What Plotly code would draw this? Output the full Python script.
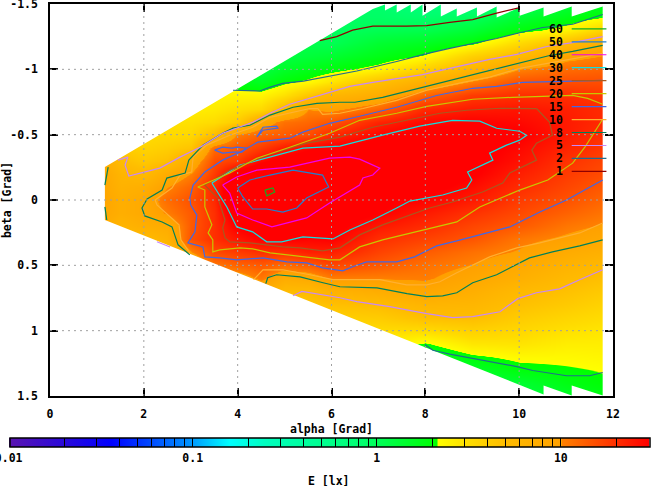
import numpy as np
import plotly.graph_objects as go

# ---------- illuminance table E [lx], one list per alpha column, beta rows -1.5 .. 1.5 ----------
beta_rows = [-1.5,-1.4,-1.3,-1.2,-1.1,-1.0,-0.9,-0.8,-0.7,-0.6,-0.5,-0.4,-0.3,-0.2,-0.1,0,0.1,0.2,0.3,0.4,0.5,0.6,0.7,0.8,0.9,1.0,1.1,1.2,1.3,1.4,1.5]
alpha_cols = [1,1.5,2,2.5,3,3.5,4,4.5,5,5.5,6,7,8,9,10,11,12]
E_a1   = [3,3,3,3,3,3,3,3,3,3,3,5,8,9,9,9.5,9,8,6,3,3,3,3,3,3,3,3,3,3,3,3]
E_a1_5 = [3,3,3,3,3,3,3,3,3,3,3,4,5,6,6.5,7,7,6,5,3,3,3,3,3,3,3,3,3,3,3,3]
E_a2   = [3,3,3,3,3,3,3,3,3,3,3.2,3.6,4.2,5.3,7,8,8,7,5.1,4,3,3,3,3,3,3,3,3,3,3,3]
E_a2_5 = [3,3,3,3,3,3,3,3,3,3,3.3,3.9,4.8,7.5,10,12,10.5,7.5,6.3,4.8,3.5,3,3,3,3,3,3,3,3,3,3]
E_a3   = [2.6,2.6,2.6,2.6,2.6,2.6,2.6,2.6,2.6,3,3.4,4.5,7.5,10.3,13,15,14,14,15,10,6,3.5,3,3,3,3,3,3,3,3,3]
E_a3_5 = [2.4,2.4,2.4,2.4,2.4,2.4,2.4,2.4,2.7,3.2,5,12,15.5,18,22,21,20,20,20,16,11,6,3.5,3,3,3,3,3,3,3,3]
E_a4   = [1.8,1.8,1.8,1.8,1.8,1.8,1.8,2.4,3,4,10.5,14,18,35,48,55,40,31,25,18,13,8,4,3,3,3,3,3,3,3,3]
E_a4_5 = [1.2,1.2,1.2,1.2,1.2,1.2,1.6,2.4,3.3,8,13,18,28,50,58,58,50,35,30,20,14,11,7,4,3,3,3,3,3,3,3]
E_a5   = [1.2,1.2,1.2,1.2,1.2,1.5,2,3,5.4,11.5,14,24,35,52,55,55,50,38,31,20,12,7.5,5.2,4,3,3,3,3,3,3,3]
E_a5_5 = [1.1,1.1,1.1,1.1,1.3,1.7,2.3,4.3,10,12.5,15.5,29,36,45,50,50,42,34,29,23,13.5,8,5.2,4.3,3.5,3,3,3,3,3,3]
E_a6   = [0.9,0.9,0.95,1.05,1.4,1.9,2.9,5.8,9.3,14.5,21,32,41,45,44,41,36,33,30,23,16.5,10.5,6.5,4.7,3.8,3,3,3,3,3,3]
E_a7   = [0.85,0.9,1.05,1.4,1.75,2.4,4.7,7.3,12.5,22,29,34,38,36,33,32,30,24.5,20,17,14,10.3,7.3,5,4,3.2,2.6,2.2,2,2,2]
E_a8   = [0.7,0.85,1.1,1.6,2.2,3.8,7,12.5,21,28,33,36,36,35,33,29,24,20.5,17,13.8,11.5,10.5,8.5,6,4.8,3.2,2.05,1.5,1.2,1,0.9]
E_a9   = [0.75,0.95,1.35,2,3.8,6,10.5,18,24,30,33,34,33,31,27,24,19.5,16.5,14.5,11.5,10,8.5,7,5.8,4.9,3.7,2.8,2,1.5,1.2,1]
E_a10  = [0.95,1.35,1.9,3.3,5.3,10,15,20,25,28,31,28,26,23,20.5,18,16,14,11,9.8,7.9,6.8,5.4,4.7,4,3.4,2.9,2.3,1.9,1.4,1.2]
E_a11  = [1.3,1.75,2.4,5,9,12,15.5,20,23,24,24,22,19.5,18,16.5,15,13,11,9.5,7.6,6.3,5.4,4.7,4.1,3.5,3,2.6,2.3,2.05,1.8,1.5]
E_a12  = [1.7,2.2,4,8,10.5,13,15.5,18,20,20,18.5,17.5,16,15,13.5,12,10.7,9.5,8,6.5,5.3,4.6,4,3.5,3.1,2.8,2.6,2.4,2.2,2.1,1.9]
E_columns = [E_a1,E_a1_5,E_a2,E_a2_5,E_a3,E_a3_5,E_a4,E_a4_5,E_a5,E_a5_5,E_a6,E_a7,E_a8,E_a9,E_a10,E_a11,E_a12]

# ---------- measured area outline (alpha, beta) ----------
area_alpha = [1.17,6.88,7.14,7.14,7.39,7.39,7.69,7.69,7.94,7.94,8.33,8.33,8.67,8.67,9.1,9.1,9.52,9.52,10.01,10.01,10.52,10.52,11.12,11.12,11.78,11.78,11.12,11.12,10.52,10.52,1.17,1.17]
area_beta  = [-0.252,-1.461,-1.496,-1.45,-1.496,-1.434,-1.496,-1.434,-1.496,-1.41,-1.496,-1.404,-1.465,-1.404,-1.473,-1.404,-1.48,-1.396,-1.473,-1.41,-1.473,-1.404,-1.48,-1.404,-1.48,1.496,1.42,1.496,1.42,1.488,0.153,-0.252]

# ---------- contour levels, each a list of (alpha, beta) polylines ----------
c60 = [[(4.58,-0.076),(4.75,-0.092),(4.79,-0.061),(4.62,-0.031),(4.58,-0.076)]]
c50 = [[(4.0,-0.092),(4.26,-0.153),(4.69,-0.191),(5.18,-0.229),(5.81,-0.191),(5.94,-0.099),(5.47,-0.015),(5.26,0.061),(4.96,0.092),(4.62,0.069),(4.32,0.069),(4.11,-0.023),(4.0,-0.092)]]
c40 = [[(3.68,-0.114),(3.98,-0.176),(4.41,-0.229),(5.11,-0.252),(5.96,-0.32),(6.39,-0.328),(6.6,-0.313),(7.03,-0.244),(6.88,-0.191),(6.67,-0.168),(6.6,-0.114),(6.18,-0.023),(5.96,0.023),(5.47,0.137),(4.73,0.206),(4.32,0.153),(3.98,0.099),(3.83,-0.053),(3.68,-0.114)]]
c30 = [[(3.45,-0.13),(3.77,0.053),(3.98,0.206),(4.32,0.244),(4.62,0.32),(4.94,0.32),(5.39,0.282),(6.03,0.298),(6.39,0.229),(6.88,0.153),(7.39,0.061),(7.67,0.008),(8.37,-0.038),(8.88,-0.092),(8.99,-0.153),(8.9,-0.214),(9.44,-0.305),(9.37,-0.359),(9.73,-0.42),(10.01,-0.458),(10.16,-0.496),(10.01,-0.526),(9.52,-0.549),(9.16,-0.603),(8.58,-0.61),(7.88,-0.565),(7.09,-0.496),(6.18,-0.412),(5.39,-0.397),(4.62,-0.32),(4.05,-0.267),(3.45,-0.13)]]
c25 = [[(10.37,-0.70),(10.65,-0.595),(10.71,-0.496),(10.37,-0.435),(10.27,-0.382),(10.37,-0.305),(9.8,-0.206),(9.65,-0.13),(9.22,-0.061),(8.58,0.015),(8.09,0.061),(7.67,0.114),(7.09,0.19),(6.6,0.267),(6.18,0.366),(5.81,0.389),(5.33,0.366),(4.96,0.359),(4.26,0.328),(3.83,0.32),(3.73,0.29),(3.68,0.214),(3.73,0.153),(3.58,-0.015),(3.3,-0.114),(3.83,-0.229),(4.62,-0.343),(5.47,-0.435),(6.18,-0.481),(6.88,-0.557),(7.6,-0.61),(8.31,-0.664),(8.88,-0.687),(9.59,-0.702),(10.37,-0.70)]]
c20 = [[(11.78,-0.618),(11.4,-0.404),(11.14,-0.282),(10.61,-0.153),(10.01,-0.076),(9.52,0),(9.16,0.053),(8.67,0.168),(8.24,0.206),(7.67,0.252),(7.09,0.305),(6.6,0.359),(6.33,0.42),(6.18,0.458),(5.96,0.458),(5.47,0.435),(4.96,0.412),(4.69,0.404),(4.32,0.374),(4.05,0.366),(3.62,0.382),(3.47,0.397),(3.47,0.305),(3.37,0.252),(3.45,0.19),(3.3,0.053),(3.3,-0.076),(3.15,-0.099),(3.83,-0.206),(4.41,-0.32),(5.11,-0.404),(5.96,-0.511),(6.6,-0.61),(7.39,-0.664),(8.03,-0.717),(8.58,-0.748),(9.01,-0.771),(9.86,-0.786),(10.44,-0.794),(11.14,-0.801),(11.46,-0.778),(11.78,-0.733)]]
c15 = [[(11.78,-0.916),(11.14,-0.908),(10.07,-0.90),(9.52,-0.87),(9.01,-0.855),(8.24,-0.80),(7.39,-0.71),(6.6,-0.641),(5.96,-0.587),(5.39,-0.519),(5.11,-0.473),(4.43,-0.443),(4.05,-0.366),(3.68,-0.305),(3.3,-0.214),(3.05,-0.114),(2.98,-0.015),(3.0,0.038),(3.13,0.114),(3.09,0.244),(2.94,0.328),(3.26,0.359),(3.3,0.435),(3.62,0.443),(3.98,0.458),(4.54,0.443),(5.05,0.473),(5.47,0.481),(5.81,0.519),(6.24,0.542),(6.45,0.511),(6.75,0.473),(7.39,0.473),(7.77,0.435),(8.24,0.351),(8.67,0.313),(9.16,0.267),(9.8,0.206),(10.44,0.092),(11.01,0),(11.78,-0.153)],
       [(3.51,-0.382),(3.68,-0.404),(3.88,-0.397),(3.98,-0.404),(4.2,-0.397),(4.09,-0.366),(3.9,-0.366),(3.68,-0.359),(3.51,-0.382)],
       [(4.41,-0.481),(4.54,-0.557),(4.83,-0.565),(4.86,-0.55),(4.54,-0.534),(4.41,-0.481)]]
c10 = [[(2.98,0.404),(2.79,0.305),(2.75,0.19),(2.51,0.114),(2.28,0.038),(2.24,0),(2.6,-0.092),(2.77,-0.19),(3.02,-0.214),(3.05,-0.328),(3.34,-0.42),(3.83,-0.496),(4.32,-0.557),(4.69,-0.633),(5.18,-0.671),(5.54,-0.70),(5.71,-0.70),(5.81,-0.656),(6.18,-0.664),(6.67,-0.70),(7.39,-0.763),(8.03,-0.84),(8.8,-0.90),(9.37,-0.94),(10.01,-1.007),(10.71,-1.053),(11.14,-1.084),(11.78,-1.122)],
       [(4.34,0.61),(4.54,0.534),(4.96,0.534),(5.54,0.572),(6.03,0.61),(6.6,0.61),(7.03,0.61),(7.6,0.649),(8.03,0.649),(8.31,0.626),(8.67,0.557),(9.37,0.435),(9.95,0.366),(10.44,0.328),(11.29,0.252),(11.78,0.176)]]
c8 = [[(2.98,0.42),(2.73,0.343),(2.6,0.206),(2.39,0.168),(2.02,0.122),(1.96,0.061),(2.07,-0.008),(2.39,-0.076),(2.49,-0.168),(2.88,-0.206),(2.96,-0.305),(3.26,-0.42),(3.68,-0.511),(3.9,-0.55),(4.26,-0.572),(4.69,-0.65),(5.18,-0.71),(5.69,-0.74),(6.18,-0.748),(6.5,-0.748),(7.09,-0.786),(8.03,-0.87),(8.8,-0.94),(9.52,-1.007),(10.01,-1.045),(10.65,-1.106),(11.14,-1.137),(11.78,-1.183)],
      [(1.17,-0.114),(1.24,-0.252)],
      [(1.17,0.053),(1.21,0.153)],
      [(4.6,0.64),(4.64,0.595),(4.83,0.572),(5.33,0.588),(5.82,0.633),(6.18,0.664),(6.97,0.672),(7.61,0.717),(8.03,0.74),(8.37,0.733),(8.67,0.71),(9.01,0.633),(9.52,0.572),(9.95,0.496),(10.22,0.443),(10.71,0.397),(11.29,0.351),(11.78,0.305)]]
c5 = [[(1.45,-0.305),(1.66,-0.328),(1.60,-0.267),(1.68,-0.183),(2.34,-0.244),(2.77,-0.328),(3.2,-0.404),(3.68,-0.511),(4.32,-0.595),(4.69,-0.664),(5.11,-0.733),(5.54,-0.778),(6.11,-0.84),(6.39,-0.87),(6.88,-0.90),(7.94,-0.96),(8.52,-1.007),(9.37,-1.076),(9.95,-1.114),(10.59,-1.175),(11.14,-1.205),(11.78,-1.25)],
      [(2.28,0.32),(2.56,0.36)],
      [(5.18,0.733),(5.37,0.70),(6.18,0.748),(6.54,0.778),(7.24,0.816),(8.03,0.87),(8.58,0.90),(9.01,0.893),(9.59,0.855),(9.97,0.755),(10.37,0.71),(10.86,0.68),(11.29,0.61),(11.78,0.534)]]
c2 = [[(3.90,-0.84),(4.47,-0.834),(4.68,-0.862),(4.96,-0.893),(5.40,-0.91),(5.96,-0.946),(6.54,-0.987),(7.39,-1.06),(8.03,-1.12),(8.52,-1.16),(9.09,-1.2),(9.52,-1.236),(10.01,-1.28),(10.5,-1.32),(11.14,-1.345),(11.78,-1.42)],
      [(7.99,1.106),(8.16,1.15),(8.52,1.18),(8.88,1.205),(9.22,1.23),(9.59,1.25),(9.95,1.275),(10.29,1.305),(10.71,1.33),(11.01,1.345),(11.5,1.345),(11.78,1.32)]]
c1 = [[(5.75,-1.22),(6.11,-1.25),(6.45,-1.30),(6.88,-1.33),(7.60,-1.33),(8.03,-1.335),(8.52,-1.36),(9.01,-1.38),(9.52,-1.43),(9.99,-1.47)]]

levels = [60,50,40,30,25,20,15,10,8,5,2,1]
level_lines = [c60,c50,c40,c30,c25,c20,c15,c10,c8,c5,c2,c1]
level_colors = ["#10b020","#2080d0","#f000f0","#10e0e0","#a85a20","#c8c800","#4068e8","#ffb030","#008058","#c888f8","#206c90","#900000"]

xticks = [0,2,4,6,8,10,12]
yticks = [-1.5,-1,-0.5,0,0.5,1,1.5]
ytick_text = ["-1.5","-1","-0.5","0","0.5","1","1.5"]
cb_major = [0.01,0.1,1,10]
cb_major_text = ["0.01","0.1","1","10"]
cb_minor = [0.02,0.03,0.04,0.05,0.06,0.07,0.08,0.09,0.2,0.3,0.4,0.5,0.6,0.7,0.8,0.9,2,3,4,5,6,7,8,9,20]

FONT = dict(family="DejaVu Sans Mono", size=11.5, color="black", weight="bold")

colorscale = [
    [0.0,"#5a14b0"],[0.16,"#0000ff"],[0.28,"#0090ff"],[0.345,"#00ffff"],[0.40,"#00ffc0"],
    [0.55,"#00ff70"],[0.669,"#00ff00"],[0.6701,"#ffff00"],[0.72,"#ffdc00"],[0.777,"#ffbc00"],
    [0.8635,"#ffa000"],[0.8645,"#ff8000"],[0.948,"#ff3000"],[1.0,"#ff0000"],
]

z = np.log10(np.array(E_columns, dtype=float).T)
fig = go.Figure()
fig.add_trace(go.Heatmap(
    x=alpha_cols, y=beta_rows, z=z, zsmooth="best", zmin=-2, zmax=np.log10(30),
    colorscale=colorscale, hoverinfo="skip",
    colorbar=dict(
        orientation="h", xref="container", yref="container", x=10/651, xanchor="left",
        y=1-436/486, yanchor="top", lenmode="pixels", len=640, thickness=9,
        thicknessmode="pixels", outlinecolor="black", outlinewidth=1.5, xpad=0, ypad=2,
        tickmode="array",
        tickvals=list(np.log10(cb_major))+list(np.log10(cb_minor)),
        ticktext=cb_major_text+[""]*len(cb_minor),
        ticks="inside", ticklen=9, tickwidth=1, tickcolor="black", tickfont=FONT,
    ),
))

# white surround outside the measured area: axes rectangle, then the outline traversed the other way as a hole
mask_x = [0,12,12,0,0] + area_alpha[::-1] + [0]
mask_y = [-1.5,-1.5,1.5,1.5,-1.5] + area_beta[::-1] + [-1.5]
fig.add_trace(go.Scatter(x=mask_x, y=mask_y, mode="lines", fill="toself", fillcolor="white",
                         line=dict(width=0), hoverinfo="skip", showlegend=False))

shapes = []
for v in xticks[1:-1]:
    shapes.append(dict(type="line", xref="x", yref="y", x0=v, x1=v, y0=-1.5, y1=1.5, layer="above",
                       line=dict(color="#a0a0a0", width=1, dash="2px,4px")))
for v in yticks[1:-1]:
    shapes.append(dict(type="line", xref="x", yref="y", x0=0, x1=12, y0=v, y1=v, layer="above",
                       line=dict(color="#a0a0a0", width=1, dash="2px,4px")))
fig.update_layout(shapes=shapes)

for lines, col in zip(level_lines, level_colors):
    xs, ys = [], []
    for seg in lines:
        xs += [p[0] for p in seg] + [None]
        ys += [p[1] for p in seg] + [None]
    fig.add_trace(go.Scatter(x=xs, y=ys, mode="lines", line=dict(color=col, width=1.2),
                             hoverinfo="skip", showlegend=False))

# key: labels and sample lines, in axis units
key_top = -1.31
key_step = 0.0992
for i, (lev, col) in enumerate(zip(levels, level_colors)):
    yk = key_top + i*key_step
    fig.add_trace(go.Scatter(x=[11.12,11.86], y=[yk,yk], mode="lines", line=dict(color=col, width=1.2),
                             hoverinfo="skip", showlegend=False))
    fig.add_annotation(x=10.97, y=yk, xref="x", yref="y", text=str(lev), showarrow=False,
                       xanchor="right", yanchor="middle", font=FONT)

# colour bar title, below the bar's labels
fig.add_annotation(x=0.4956, y=-0.217, xref="paper", yref="paper", text="E [lx]", showarrow=False,
                   xanchor="center", yanchor="middle", font=FONT)

fig.update_xaxes(range=[0,12], tickmode="array", tickvals=xticks, ticks="inside", ticklen=8,
                 tickwidth=1.5, tickcolor="black", showline=True, linecolor="black", linewidth=1.5,
                 mirror="ticks", showgrid=False, zeroline=False, tickfont=FONT, ticklabelstandoff=6,
                 title=dict(text="alpha [Grad]", font=FONT, standoff=24))
fig.update_yaxes(range=[1.5,-1.5], tickmode="array", tickvals=yticks, ticktext=ytick_text, ticks="inside",
                 ticklen=8, tickwidth=1.5, tickcolor="black", showline=True, linecolor="black", linewidth=1.5,
                 mirror="ticks", showgrid=False, zeroline=False, tickfont=FONT, ticklabelstandoff=8,
                 ticklabeloverflow="allow",
                 title=dict(text="beta [Grad]", font=FONT, standoff=10))
fig.update_layout(width=651, height=486, plot_bgcolor="white", paper_bgcolor="white", showlegend=False,
                  margin=dict(l=50, r=38, t=4, b=90, autoexpand=False))
fig.write_html("out.html", config=dict(displayModeBar=False),
               post_script="document.body.style.margin='0';")
